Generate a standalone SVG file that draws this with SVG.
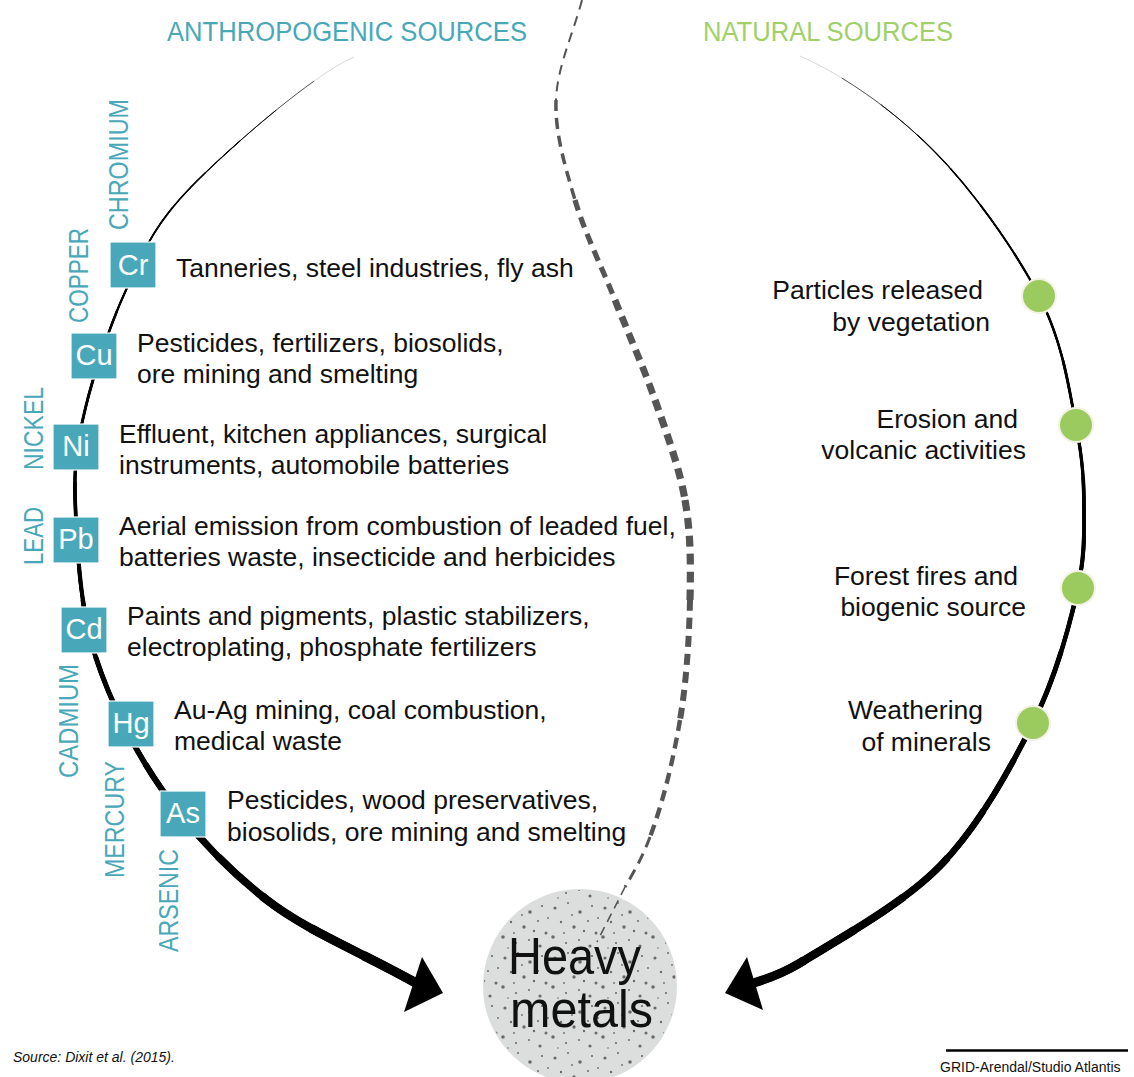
<svg xmlns="http://www.w3.org/2000/svg" xmlns:xlink="http://www.w3.org/1999/xlink" width="1134" height="1077" viewBox="0 0 1134 1077">
<style>
.t{font-family:"Liberation Sans",Arial,Helvetica,sans-serif;font-size:26.5px;fill:#111}
.sym{font-family:"Liberation Sans",Arial,Helvetica,sans-serif;font-size:29px;fill:#fff;text-anchor:middle}
.lab{font-family:"Liberation Sans",Arial,Helvetica,sans-serif;font-size:27px;fill:#48a8b9}
.box{fill:#48a8b9;stroke:#fff;stroke-width:1.2}
.dot{fill:#9bcb5e;stroke:#f4f1e6;stroke-width:2}
.arc{fill:none;stroke:#000;stroke-linecap:butt}
.dash{fill:none;stroke:#555;stroke-dasharray:11 7}
.end{text-anchor:end}
</style>
<defs>
<path id="leftArc" pathLength="100" d="M354,57 C314,74 229,148 191,187 C153,226 144,251 126,290 C108,329 90,385 82,423 C74,461 74,481 76,520 C78,559 80.5,610 95,655 C109.5,700 134,750 163,791 C192,832 227,869 267,900 C307,931 359,951 416,983"/>
<path id="rightArc" pathLength="100" d="M800,56 C845,76 893,110 933,150 C973,190 1015,250 1039,296 C1063,342 1069,389 1076,425 C1083,461 1084,483 1084,510 C1084,537 1085,553 1078,588 C1070,624 1056,677 1033,723 C1010,769 979,826 940,866 C901,906 830,944 800,963 C785,972 768,979 750,984"/>
<pattern id="speck" width="50" height="50" patternUnits="userSpaceOnUse">
<g fill="#6a6a6a">
<circle cx="5" cy="8" r="1.6"/><circle cx="18" cy="3" r="1"/><circle cx="30" cy="12" r="1.8"/><circle cx="42" cy="6" r="1.1"/>
<circle cx="11" cy="22" r="1.2"/><circle cx="24" cy="27" r="1.7"/><circle cx="38" cy="21" r="1"/><circle cx="46" cy="33" r="1.5"/>
<circle cx="3" cy="37" r="1.8"/><circle cx="16" cy="43" r="1.1"/><circle cx="29" cy="40" r="1"/><circle cx="40" cy="46" r="1.6"/>
<circle cx="22" cy="15" r="0.9"/><circle cx="8" cy="48" r="0.8"/><circle cx="34" cy="31" r="1.2"/><circle cx="48" cy="18" r="0.9"/><circle cx="14" cy="33" r="0.9"/>
</g>
</pattern>
</defs>
<rect width="1134" height="1077" fill="#fff"/>

<g id="titles">
<text class="lab" x="167" y="41" textLength="360" lengthAdjust="spacingAndGlyphs">ANTHROPOGENIC SOURCES</text>
<text class="lab" x="703" y="41" textLength="250" lengthAdjust="spacingAndGlyphs" style="fill:#a0d068">NATURAL SOURCES</text>
</g>

<g id="connectors">
<g class="arc">
<use xlink:href="#leftArc" href="#leftArc" style="stroke:#999;stroke-width:0.4"/>
<use href="#leftArc" style="stroke-width:0.6;stroke-dasharray:0 4 200"/>
<use href="#leftArc" style="stroke-width:0.9;stroke-dasharray:0 8 200"/>
<use href="#leftArc" style="stroke-width:1.2;stroke-dasharray:0 12 200"/>
<use href="#leftArc" style="stroke-width:1.5;stroke-dasharray:0 16 200"/>
<use href="#leftArc" style="stroke-width:1.8;stroke-dasharray:0 20 200"/>
<use href="#leftArc" style="stroke-width:2.1;stroke-dasharray:0 25 200"/>
<use href="#leftArc" style="stroke-width:2.5;stroke-dasharray:0 30 200"/>
<use href="#leftArc" style="stroke-width:2.9;stroke-dasharray:0 35 200"/>
<use href="#leftArc" style="stroke-width:3.3;stroke-dasharray:0 40 200"/>
<use href="#leftArc" style="stroke-width:3.7;stroke-dasharray:0 45 200"/>
<use href="#leftArc" style="stroke-width:4.1;stroke-dasharray:0 50 200"/>
<use href="#leftArc" style="stroke-width:4.5;stroke-dasharray:0 55 200"/>
<use href="#leftArc" style="stroke-width:5.0;stroke-dasharray:0 60 200"/>
<use href="#leftArc" style="stroke-width:5.6;stroke-dasharray:0 65 200"/>
<use href="#leftArc" style="stroke-width:6.2;stroke-dasharray:0 70 200"/>
<use href="#leftArc" style="stroke-width:7.0;stroke-dasharray:0 75 200"/>
<use href="#leftArc" style="stroke-width:7.8;stroke-dasharray:0 80 200"/>
<use href="#leftArc" style="stroke-width:8.5;stroke-dasharray:0 85 200"/>
<use href="#leftArc" style="stroke-width:9.0;stroke-dasharray:0 90 200"/>
<use href="#leftArc" style="stroke-width:9.5;stroke-dasharray:0 95 200"/>

<use href="#rightArc" style="stroke:#999;stroke-width:0.4"/>
<use href="#rightArc" style="stroke-width:0.6;stroke-dasharray:0 4 200"/>
<use href="#rightArc" style="stroke-width:0.9;stroke-dasharray:0 8 200"/>
<use href="#rightArc" style="stroke-width:1.2;stroke-dasharray:0 12 200"/>
<use href="#rightArc" style="stroke-width:1.5;stroke-dasharray:0 16 200"/>
<use href="#rightArc" style="stroke-width:1.8;stroke-dasharray:0 20 200"/>
<use href="#rightArc" style="stroke-width:2.1;stroke-dasharray:0 25 200"/>
<use href="#rightArc" style="stroke-width:2.5;stroke-dasharray:0 30 200"/>
<use href="#rightArc" style="stroke-width:2.9;stroke-dasharray:0 35 200"/>
<use href="#rightArc" style="stroke-width:3.3;stroke-dasharray:0 40 200"/>
<use href="#rightArc" style="stroke-width:3.7;stroke-dasharray:0 45 200"/>
<use href="#rightArc" style="stroke-width:4.1;stroke-dasharray:0 50 200"/>
<use href="#rightArc" style="stroke-width:4.5;stroke-dasharray:0 55 200"/>
<use href="#rightArc" style="stroke-width:5.0;stroke-dasharray:0 60 200"/>
<use href="#rightArc" style="stroke-width:5.5;stroke-dasharray:0 65 200"/>
<use href="#rightArc" style="stroke-width:6.0;stroke-dasharray:0 70 200"/>
<use href="#rightArc" style="stroke-width:6.6;stroke-dasharray:0 75 200"/>
<use href="#rightArc" style="stroke-width:7.2;stroke-dasharray:0 80 200"/>
<use href="#rightArc" style="stroke-width:7.8;stroke-dasharray:0 85 200"/>
<use href="#rightArc" style="stroke-width:8.4;stroke-dasharray:0 90 200"/>
<use href="#rightArc" style="stroke-width:9.0;stroke-dasharray:0 95 200"/>
</g>
<polygon points="422,957 443,993 404,1012" fill="#000"/>
<polygon points="747,957 725,993 763,1010" fill="#000"/>
</g>

<g id="heavy-metals">
<circle cx="580" cy="986" r="97" fill="#dcdddd"/>
<circle cx="580" cy="986" r="96" fill="url(#speck)"/>
</g>

<g id="divider">
<path class="dash" d="M582,0 C573.3,33.3 557.2,66.7 556,100" style="stroke-width:2;stroke-dasharray:10 7"/>
<path class="dash" d="M556,100 C554.8,133.3 565.2,166.7 575,200" style="stroke-width:3.5"/>
<path class="dash" d="M575,200 C584.8,233.3 601.7,266.7 615,300" style="stroke-width:5.2"/>
<path class="dash" d="M615,300 C628.3,333.3 643.3,366.7 655,400" style="stroke-width:6.8"/>
<path class="dash" d="M655,400 C666.7,433.3 679.2,466.7 685,500" style="stroke-width:7.2"/>
<path class="dash" d="M685,500 C690.8,533.3 690.8,563.3 690,600" style="stroke-width:7.2"/>
<path class="dash" d="M690,600 C689.2,636.7 686.7,680.5 680,720" style="stroke-width:6"/>
<path class="dash" d="M680,720 C673.3,759.5 663.8,800 650,837" style="stroke-width:4.4"/>
<path class="dash" d="M650,837 C643,856 634,872 625,887" style="stroke-width:3"/>
<path class="dash" d="M625,887 C616,905 606,924 597,942" style="stroke-width:1.6;stroke-dasharray:9 6"/>
</g>

<g id="heavy-metals-label">
<text class="t" x="508" y="974" style="font-size:52px" textLength="133" lengthAdjust="spacingAndGlyphs">Heavy</text>
<text class="t" x="510" y="1027" style="font-size:52px" textLength="143" lengthAdjust="spacingAndGlyphs">metals</text>
</g>

<g id="node-cr">
<rect class="box" x="110" y="242" width="46" height="46"/>
<text class="sym" x="133" y="275">Cr</text>
<text class="lab" transform="translate(128,230) rotate(-90)" textLength="131" lengthAdjust="spacingAndGlyphs">CHROMIUM</text>
<text class="t" x="176" y="277">Tanneries, steel industries, fly ash</text>
</g>
<g id="node-cu">
<rect class="box" x="71" y="333" width="46" height="46"/>
<text class="sym" x="94" y="365">Cu</text>
<text class="lab" transform="translate(88,323) rotate(-90)" textLength="95" lengthAdjust="spacingAndGlyphs">COPPER</text>
<text class="t" x="137" y="352">Pesticides, fertilizers, biosolids,</text>
<text class="t" x="137" y="383">ore mining and smelting</text>
</g>
<g id="node-ni">
<rect class="box" x="53" y="424" width="46" height="46"/>
<text class="sym" x="76" y="456">Ni</text>
<text class="lab" transform="translate(43,470) rotate(-90)" textLength="83" lengthAdjust="spacingAndGlyphs">NICKEL</text>
<text class="t" x="119" y="443">Effluent, kitchen appliances, surgical</text>
<text class="t" x="119" y="474">instruments, automobile batteries</text>
</g>
<g id="node-pb">
<rect class="box" x="53" y="517" width="46" height="46"/>
<text class="sym" x="76" y="549">Pb</text>
<text class="lab" transform="translate(43,565) rotate(-90)" textLength="58" lengthAdjust="spacingAndGlyphs">LEAD</text>
<text class="t" x="119" y="535">Aerial emission from combustion of leaded fuel,</text>
<text class="t" x="119" y="566">batteries waste, insecticide and herbicides</text>
</g>
<g id="node-cd">
<rect class="box" x="61" y="607" width="46" height="46"/>
<text class="sym" x="84" y="639">Cd</text>
<text class="lab" transform="translate(78,778) rotate(-90)" textLength="114" lengthAdjust="spacingAndGlyphs">CADMIUM</text>
<text class="t" x="127" y="625">Paints and pigments, plastic stabilizers,</text>
<text class="t" x="127" y="656">electroplating, phosphate fertilizers</text>
</g>
<g id="node-hg">
<rect class="box" x="108" y="701" width="46" height="46"/>
<text class="sym" x="131" y="733">Hg</text>
<text class="lab" transform="translate(124,878) rotate(-90)" textLength="117" lengthAdjust="spacingAndGlyphs">MERCURY</text>
<text class="t" x="174" y="719">Au-Ag mining, coal combustion,</text>
<text class="t" x="174" y="750">medical waste</text>
</g>
<g id="node-as">
<rect class="box" x="160" y="791" width="46" height="46"/>
<text class="sym" x="183" y="823">As</text>
<text class="lab" transform="translate(178,952) rotate(-90)" textLength="103" lengthAdjust="spacingAndGlyphs">ARSENIC</text>
<text class="t" x="227" y="809">Pesticides, wood preservatives,</text>
<text class="t" x="227" y="841">biosolids, ore mining and smelting</text>
</g>

<g id="node-vegetation">
<circle class="dot" cx="1039" cy="296" r="17"/>
<text class="t end" x="983" y="299">Particles released</text>
<text class="t end" x="990" y="331">by vegetation</text>
</g>
<g id="node-erosion">
<circle class="dot" cx="1076" cy="425" r="17"/>
<text class="t end" x="1018" y="428">Erosion and</text>
<text class="t end" x="1026" y="459">volcanic activities</text>
</g>
<g id="node-fires">
<circle class="dot" cx="1078" cy="588" r="17"/>
<text class="t end" x="1018" y="585">Forest fires and</text>
<text class="t end" x="1026" y="616">biogenic source</text>
</g>
<g id="node-weathering">
<circle class="dot" cx="1033" cy="723" r="17"/>
<text class="t end" x="983" y="719">Weathering</text>
<text class="t end" x="991" y="751">of minerals</text>
</g>

<g id="credits">
<text x="13" y="1062" style="font-family:'Liberation Sans',Arial,sans-serif;font-size:14px;font-style:italic;fill:#111">Source: Dixit et al. (2015).</text>
<line x1="946" y1="1050.5" x2="1128" y2="1050.5" stroke="#000" stroke-width="2.5"/>
<text x="940" y="1072" style="font-family:'Liberation Sans',Arial,sans-serif;font-size:14px;fill:#111">GRID-Arendal/Studio Atlantis</text>
</g>
</svg>
